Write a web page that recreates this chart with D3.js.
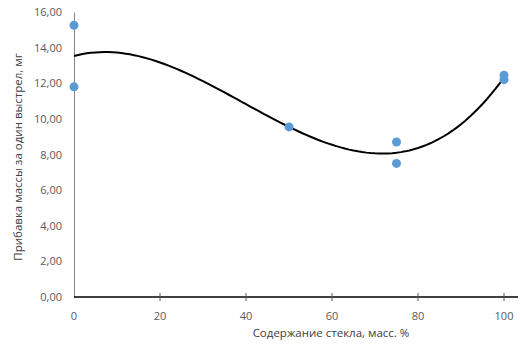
<!DOCTYPE html>
<html>
<head>
<meta charset="utf-8">
<script src="https://cdn.jsdelivr.net/npm/d3@7"></script>
<style>
  body { margin: 0; background: #fff; }
  text { font-family: "Open Sans", sans-serif; }
</style>
</head>
<body>
<div id="chart"></div>
<script>
// Data
var glass = [0, 0, 50, 75, 75, 100, 100];
var massGain = [15.25, 11.8, 9.55, 8.7, 7.5, 12.45, 12.2];
var xTicks = [0, 20, 40, 60, 80, 100];
var yTicks = [0, 2, 4, 6, 8, 10, 12, 14, 16];

var w = 520, h = 354;
var margin = {top: 12, right: 2, bottom: 57, left: 74};
var width = w - margin.left - margin.right;
var height = h - margin.top - margin.bottom;

var svg = d3.select("#chart").append("svg")
    .attr("width", w)
    .attr("height", h)
  .append("g")
    .attr("transform", "translate(" + margin.left + "," + margin.top + ")");

// x: 0..100 spans 430px, axis line runs a bit further right
var xScale = d3.scaleLinear().domain([0, 100]).range([0, 430]);
var yScale = d3.scaleLinear().domain([0, 16]).range([height, 0]);

var fmt = function(d) { return d3.format(".2f")(d).replace(".", ","); };

// Y axis
var yAxis = d3.axisLeft(yScale).tickValues(yTicks).tickSize(0).tickPadding(12).tickFormat(fmt);
var gy = svg.append("g").call(yAxis);
gy.select(".domain").attr("stroke", "#868686");
gy.selectAll("text").attr("font-size", "11px").attr("fill", "#595959");

// X axis (ticks crossing the line)
var gx = svg.append("g").attr("transform", "translate(0," + height + ")");
gx.append("line")
  .attr("x1", 0).attr("x2", width)
  .attr("stroke", "#000").attr("stroke-width", 1.3);
gx.selectAll(".tk").data(xTicks.slice(1)).enter().append("line")
  .attr("x1", function(d) { return xScale(d); })
  .attr("x2", function(d) { return xScale(d); })
  .attr("y1", -4).attr("y2", 4)
  .attr("stroke", "#595959");
gx.selectAll(".lbl").data(xTicks).enter().append("text")
  .attr("x", function(d) { return xScale(d); })
  .attr("y", 23)
  .attr("text-anchor", "middle")
  .attr("font-size", "11px")
  .attr("fill", "#595959")
  .text(function(d) { return d; });

// Axis titles
svg.append("text")
  .attr("x", 257)
  .attr("y", height + 40)
  .attr("text-anchor", "middle")
  .attr("font-size", "11.5px")
  .attr("fill", "#404040")
  .text("Содержание стекла, масс. %");

svg.append("text")
  .attr("transform", "rotate(-90)")
  .attr("x", -145)
  .attr("y", -52)
  .attr("text-anchor", "middle")
  .attr("font-size", "11.5px")
  .attr("fill", "#404040")
  .text("Прибавка массы за один выстрел, мг");

// Cubic least-squares trend line (like Excel's polynomial trendline)
function polyFit(xs, ys, order) {
  var n = order + 1;
  var A = [], b = [];
  for (var i = 0; i < n; i++) {
    A.push([]);
    for (var j = 0; j < n; j++) {
      A[i].push(d3.sum(xs, function(x) { return Math.pow(x / 100, i + j); }));
    }
    b.push(d3.sum(xs, function(x, k) { return ys[k] * Math.pow(x / 100, i); }));
  }
  // gaussian elimination
  for (var c = 0; c < n; c++) {
    for (var r = c + 1; r < n; r++) {
      var f = A[r][c] / A[c][c];
      for (var k = c; k < n; k++) A[r][k] -= f * A[c][k];
      b[r] -= f * b[c];
    }
  }
  var coef = new Array(n);
  for (var r2 = n - 1; r2 >= 0; r2--) {
    var s = b[r2];
    for (var k2 = r2 + 1; k2 < n; k2++) s -= A[r2][k2] * coef[k2];
    coef[r2] = s / A[r2][r2];
  }
  return function(x) {
    return d3.sum(coef, function(cf, p) { return cf * Math.pow(x / 100, p); });
  };
}
var trend = polyFit(glass, massGain, 3);
var trendPts = d3.range(0, 100.5, 1).map(function(x) { return [x, trend(x)]; });

svg.append("path")
  .datum(trendPts)
  .attr("fill", "none")
  .attr("stroke", "#000")
  .attr("stroke-width", 2)
  .attr("d", d3.line()
    .x(function(d) { return xScale(d[0]); })
    .y(function(d) { return yScale(d[1]); }));

// Points
svg.selectAll(".pt").data(glass).enter().append("circle")
  .attr("cx", function(d) { return xScale(d); })
  .attr("cy", function(d, i) { return yScale(massGain[i]); })
  .attr("r", 4.5)
  .attr("fill", "#5B9BD5");
</script>
</body>
</html>
